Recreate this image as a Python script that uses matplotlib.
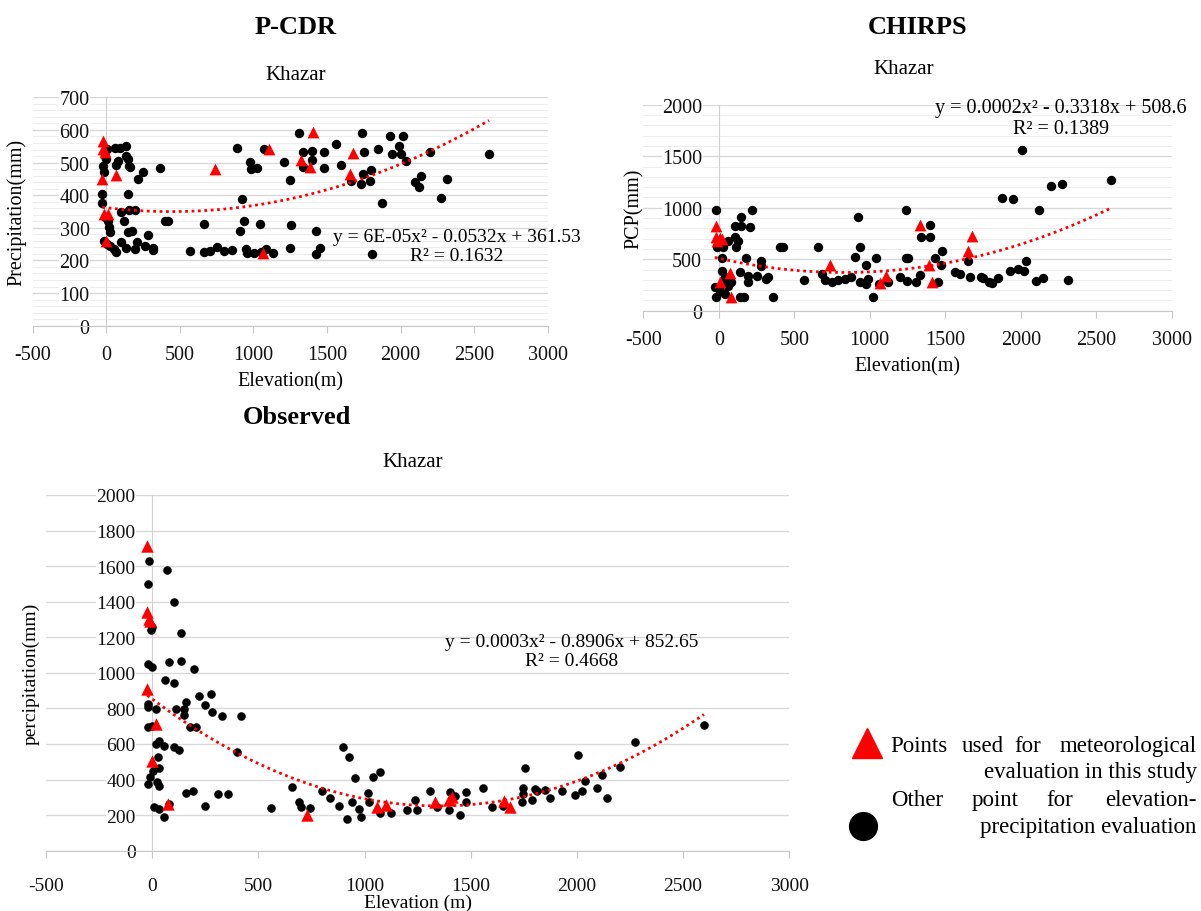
import numpy as np
import matplotlib.pyplot as plt
from matplotlib.lines import Line2D
from matplotlib.ticker import MultipleLocator

plt.rcParams['font.family'] = ['Liberation Serif', 'DejaVu Serif']
plt.rcParams['axes.unicode_minus'] = False

# ---------------- data ----------------
# P-CDR
pcdr_red_x = [-23, -23, -10, -27, 68, -18, 11, -5, 737, 1107, 1066, 1325, 1405, 1386, 1677, 1654]
pcdr_red_y = [567, 541, 531, 449, 462, 342, 342, 260, 480, 541, 223, 509, 595, 487, 528, 465]
pcdr_blk_x = [5, -11, -5, -23, -18, -27, -27, -11, 11, 18, 23, -18, 5, 23, 53, 68,
              57, 91, 137, 137, 148, 80, 64, 155, 160, 253, 217, 365, 148, 155, 196, 98,
              119, 148, 178, 103, 210, 285, 137, 196, 263, 320, 320, 400, 422, 571, 662, 667,
              703, 753, 799, 852, 890, 975, 982, 1027, 925, 936, 909, 1043, 947, 959, 1004, 1050,
              1084, 1130, 1073, 1205, 1256, 1251, 1246,
              1307, 1337, 1400, 1477, 1400, 1337, 1477, 1559, 1598, 1741, 1750, 1661, 1745, 1734,
              1802, 1791, 1850, 1873, 1927, 1945, 1991, 2002, 2018, 2036, 2199, 2097, 2122, 2138,
              2272, 2313, 2601, 1427, 1450, 1423, 1809]
pcdr_blk_y = [541, 521, 511, 490, 472, 405, 375, 332, 322, 301, 286, 260, 250, 245, 235, 225,
              546, 546, 550, 521, 511, 506, 492, 490, 487, 470, 449, 482, 405, 355, 355, 347,
              322, 288, 291, 255, 257, 278, 239, 235, 245, 237, 232, 322, 322, 230, 312, 225,
              230, 240, 228, 233, 544, 503, 480, 482, 388, 322, 291, 312, 235, 223, 223, 225,
              235, 222, 543, 503, 308, 237, 447,
              590, 531, 534, 531, 509, 487, 482, 557, 494, 590, 531, 444, 465, 434,
              477, 444, 543, 376, 582, 526, 552, 526, 582, 504, 531, 441, 426, 460,
              391, 449, 526, 289, 237, 220, 220]
pcdr_fit = [6e-05, -0.0532, 361.53]

# CHIRPS
chirps_red_x = [-20, -20, 7, -11, 18, 7, 73, 84, 735, 1066, 1106, 1334, 1391, 1411, 1651, 1679]
chirps_red_y = [825, 712, 705, 673, 696, 275, 366, 129, 447, 265, 340, 832, 447, 282, 582, 728]
chirps_blk_x = [-20, -20, -26, 7, 24, -9, 29, 24, 55, 40, 62, 84, 40, 62, 106, 128,
                106, 150, 150, 205, 221, 117, 183, 139, 194, 250, 278, 282, 327, 316, 194, 139,
                166, 404, 426, 360, 565, 658, 681, 703, 751, 790, 835, 879, 901, 919, 934, 934,
                978, 989, 978, 1022, 1040, 1062, 1122, 1239, 1243, 1199,
                1245, 1252, 1307, 1330, 1400, 1340, 1400, 1429, 1476, 1474, 1451, 1562, 1600, 1662,
                1651, 1739, 1750, 1790, 1812, 1850, 1927, 1877, 1950, 1982, 2023, 2038, 2007, 2098,
                2145, 2122, 2200, 2273, 2311, 2599]
chirps_blk_y = [977, 136, 233, 194, 508, 615, 615, 388, 265, 162, 243, 275, 330, 680, 712, 680,
                825, 825, 913, 809, 977, 615, 508, 372, 340, 340, 485, 437, 330, 307, 275, 136,
                136, 621, 621, 136, 298, 621, 356, 298, 275, 301, 307, 324, 518, 913, 615, 275,
                447, 307, 259, 136, 508, 259, 275, 977, 508, 324,
                291, 508, 282, 346, 832, 718, 718, 508, 582, 443, 282, 372, 356, 324,
                485, 330, 317, 282, 265, 314, 388, 1091, 1081, 404, 388, 479, 1560, 291,
                314, 977, 1207, 1230, 298, 1269]
chirps_fit = [0.0002, -0.3318, 508.6]

# Observed
obs_red_x = [-23, -23, -16, -8, -23, 16, 0, 73, 731, 1060, 1103, 1333, 1396, 1412, 1656, 1683]
obs_red_y = [1715, 1340, 1303, 1293, 909, 712, 506, 262, 201, 247, 257, 272, 287, 304, 281, 244]
obs_blk_x = [-16, -19, -3, -6, -19, -3, -22, -19, 20, -19, 0, 16, 31, 28, 34, 3,
             -11, -19, 23, 31, 8, 31, 55, 78, 70, 102, 137, 78, 137, 197, 59, 102,
             55, 102, 128, 114, 148, 159, 148, 177, 206, 219, 278, 250, 281, 328, 417, 398,
             159, 191, 250, 309, 359, 559, 659, 691, 703, 745,
             800, 839, 882, 897, 926, 918, 942, 954, 976, 981, 1017, 1020, 1039, 1073, 1073, 1123,
             1202, 1238, 1249, 1308, 1339, 1402, 1424, 1399, 1449, 1478, 1478, 1560, 1598, 1651,
             1754, 1746, 1746, 1741, 1790, 1801, 1814, 1850, 1875,
             1929, 1991, 2003, 2024, 2036, 2096, 2118, 2141, 2201, 2274, 2598]
obs_blk_y = [1631, 1500, 1256, 1241, 1050, 1031, 825, 806, 797, 694, 699, 600, 619, 525, 463, 450,
             412, 375, 388, 363, 247, 234, 187, 262, 1578, 1400, 1222, 1063, 1068, 1022, 962, 943,
             590, 581, 568, 797, 797, 834, 763, 694, 694, 872, 881, 821, 782, 755, 759, 553,
             322, 337, 253, 319, 319, 240, 356, 272, 247, 240,
             334, 294, 253, 581, 529, 178, 272, 407, 234, 187, 322, 276, 416, 440, 210, 210,
             229, 287, 229, 337, 244, 332, 309, 229, 201, 332, 276, 353, 244, 253,
             463, 353, 319, 276, 285, 347, 337, 343, 294,
             337, 313, 538, 334, 394, 351, 425, 294, 469, 609, 707]
obs_fit = [0.00033, -0.8906, 852.65]

W, H = 1201, 912


def box(x0, y0, x1, y1):
    # pixel box (top-left origin) -> figure fraction rect
    return [x0 / W, 1 - y1 / H, (x1 - x0) / W, (y1 - y0) / H]


def pt(x, y):
    return x / W, 1 - y / H


def panel(rect, rx, ry, bx, by, fit, ymax, major, minor, ylabel, xlabel,
          fs, ylabx, xpad, lpad, dot, tri):
    ax = fig.add_axes(rect)
    ax.set_xlim(-500, 3000)
    ax.set_ylim(0, ymax)
    ax.xaxis.set_major_locator(MultipleLocator(500))
    ax.yaxis.set_major_locator(MultipleLocator(major))
    if minor:
        # faint minor gridlines, kept under the axis layer so the labels mask them
        for v in range(0, ymax + 1, minor):
            if v % major:
                ax.axhline(v, color='#EDEDED', lw=0.8, zorder=0.1)
    ax.grid(True, which='major', axis='y', color='#D9D9D9', lw=1.0)
    ax.set_axisbelow(True)
    for s in ['top', 'right']:
        ax.spines[s].set_visible(False)
    ax.spines['left'].set_position(('data', 0))
    ax.spines['left'].set_color('#D0D0D0')
    ax.spines['bottom'].set_color('#C8C8C8')
    ax.tick_params(axis='x', direction='out', length=5, color='#C8C8C8',
                   labelsize=fs, pad=xpad, labelcolor='#111111')
    ax.tick_params(axis='y', which='both', length=0, labelsize=fs, pad=12,
                   labelcolor='#111111')
    ax.scatter(bx, by, s=dot, color='black', zorder=3, linewidths=0)
    ax.scatter(rx, ry, s=tri, color='#FF0000', marker='^', zorder=4, linewidths=0)
    allx = np.array(list(bx) + list(rx))
    xx = np.linspace(allx.min(), allx.max(), 300)
    ax.plot(xx, np.polyval(fit, xx), color='#FF0000', lw=2.0,
            linestyle=(0, (1, 1.3)), zorder=5)
    ax.set_ylabel(ylabel, fontsize=fs)
    ax.yaxis.set_label_coords(ylabx, 0.5)
    ax.set_xlabel(xlabel, fontsize=fs, labelpad=lpad)
    return ax


fig = plt.figure(figsize=(12.01, 9.12), dpi=100)

axes = [
    panel(box(32.7, 98.3, 547.7, 326.7), pcdr_red_x, pcdr_red_y, pcdr_blk_x, pcdr_blk_y,
          pcdr_fit, 700, 100, 20, 'Precipitation(mm)', 'Elevation(m)', 14.5, -0.013, 9, 5,
          46, 72),
    panel(box(643.3, 105.7, 1171.7, 311.7), chirps_red_x, chirps_red_y, chirps_blk_x,
          chirps_blk_y, chirps_fit, 2000, 500, 100, 'PCP(mm)', 'Elevation(m)', 14.5, 0.002,
          9, 5, 46, 72),
    panel(box(46, 496, 789.3, 851.7), obs_red_x, obs_red_y, obs_blk_x, obs_blk_y,
          obs_fit, 2000, 200, None, 'percipitation(mm)', 'Elevation (m)', 14, -0.009, 14, 0,
          38, 80),
]

# titles
for x, y, t in [(296, 28, 'P-CDR'), (918, 28, 'CHIRPS'), (297, 418, 'Observed')]:
    fig.text(*pt(x, y), t, fontsize=19, fontweight='bold', ha='center', va='center')
for x, y in [(296, 75), (904, 70), (413, 463)]:
    fig.text(*pt(x, y), 'Khazar', fontsize=15, ha='center', va='center')

# trendline equations
eqs = [(457, 247, 'y = 6E-05x² - 0.0532x + 361.53\nR² = 0.1632', 14),
       (1061, 119, 'y = 0.0002x² - 0.3318x + 508.6\nR² = 0.1389', 14.5),
       (572, 652, 'y = 0.0003x² - 0.8906x + 852.65\nR² = 0.4668', 14)]
for x, y, t, f in eqs:
    fig.text(*pt(x, y), t, fontsize=f, ha='center', va='center',
             multialignment='center', linespacing=1.15)

# legend (justified text block)
lf = 16.5
words = [(890.7, 751.7, 'Points', 'left'), (961.7, 751.7, 'used', 'left'),
         (1014.3, 751.7, 'for', 'left'), (1196.7, 751.7, 'meteorological', 'right'),
         (1196.7, 778, 'evaluation in this study', 'right'),
         (890.7, 806, 'Other', 'left'), (971.7, 806, 'point', 'left'),
         (1046.7, 806, 'for', 'left'), (1196.7, 806, 'elevation-', 'right'),
         (1196.7, 833, 'precipitation evaluation', 'right')]
for x, y, t, ha in words:
    fig.text(*pt(x, y), t, fontsize=lf, ha=ha, va='baseline')
fig.add_artist(Line2D([866.7 / W], [1 - 744 / H], marker='^', color='#FF0000',
                      markersize=22, transform=fig.transFigure))
fig.add_artist(Line2D([862.7 / W], [1 - 827.3 / H], marker='o', color='black',
                      markersize=20, transform=fig.transFigure))

# y tick labels sit inside the plot (axis crosses at x=0): mask gridlines behind them
fig.canvas.draw()
for ax in axes:
    for lab in ax.get_yticklabels():
        lab.set_bbox(dict(facecolor='white', edgecolor='none', pad=0.3))

fig.savefig('out.png', dpi=100)
